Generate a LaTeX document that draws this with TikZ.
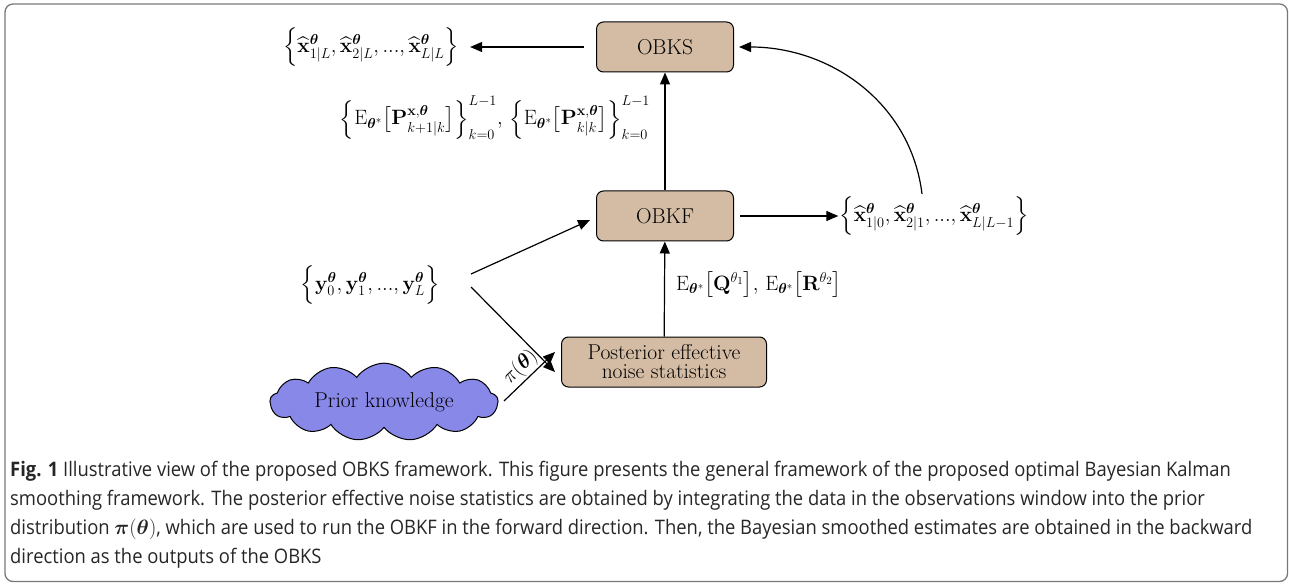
\documentclass[tikz,border=0pt]{standalone}
\usepackage{amsmath,amssymb,bm}
\usepackage[no-math]{fontspec}
\newfontfamily\capfont[FakeStretch=0.92]{Open Sans}
\usetikzlibrary{arrows.meta,shapes.symbols}
\definecolor{boxtan}{RGB}{212,188,164}
\definecolor{cloudblue}{RGB}{136,136,232}
\definecolor{framegray}{RGB}{120,120,120}
\newcommand\dfs{\fontsize{21.5}{24}\selectfont}
\newcommand\xh[1]{\widehat{\mathbf{x}}^{\bm\theta}_{#1}}
\begin{document}
\begin{tikzpicture}[x=1pt,y=-1pt,
  box/.style={draw, line width=1pt, rounded corners=7pt, fill=boxtan, minimum width=137, minimum height=50, font=\dfs, align=center},
  lbl/.style={font=\dfs, inner sep=1pt},
  arr/.style={-{Triangle[length=12pt,width=10pt]}, line width=1.2pt},
  cloudnode/.style={cloud, cloud puffs=13, cloud puff arc=110, aspect=3.6, draw, line width=1pt, fill=cloudblue, font=\dfs, inner sep=0pt, minimum width=228, minimum height=66}]
\useasboundingbox (0,0) rectangle (1289,585);
\draw[framegray, line width=1.3pt, rounded corners=8pt] (5,4) rectangle (1287.5,581.5);

\node[box] (obks) at (665,47) {OBKS};
\node[box] (obkf) at (665,216) {OBKF};
\node[box, minimum width=205] (post) at (664,362) {Posterior effective\\[-5pt]noise statistics};
\node[cloudnode] (prior) at (384,402) {Prior knowledge};

\node[lbl] (xs) at (371,47) {$\Big\{\xh{1|L},\xh{2|L},...,\xh{L|L}\Big\}$};
\node[lbl] (xf) at (934,216) {$\Big\{\xh{1|0},\xh{2|1},...,\xh{L|L-1}\Big\}$};
\node[lbl] (ys) at (370,285) {$\Big\{\mathbf{y}^{\bm\theta}_0,\mathbf{y}^{\bm\theta}_1,...,\mathbf{y}^{\bm\theta}_L\Big\}$};
\node[lbl] (pl) at (495,118) {$\Big\{\mathrm{E}_{\bm\theta^*}\big[\mathbf{P}^{\mathbf{x},\bm\theta}_{k+1|k}\big]\Big\}_{k=0}^{L-1},\,\Big\{\mathrm{E}_{\bm\theta^*}\big[\mathbf{P}^{\mathbf{x},\bm\theta}_{k|k}\big]\Big\}_{k=0}^{L-1}$};
\node[lbl, anchor=west] (ql) at (675,285) {$\mathrm{E}_{\bm\theta^*}\big[\mathbf{Q}^{\theta_1}\big],\,\mathrm{E}_{\bm\theta^*}\big[\mathbf{R}^{\theta_2}\big]$};

\coordinate (ysa) at (471,274);
\coordinate (ysb) at (471,287);
\coordinate (pra) at (504,401);
\coordinate (xft) at (922,194);

\draw[arr] ([xshift=-12pt]obks.west) -- ([xshift=10pt]xs.east);
\draw[arr] (obkf) -- (obks);
\draw[arr] (post) -- (obkf);
\draw[arr] ([xshift=6pt]obkf.east) -- (xf.west);
\draw[arr] (ysa) -- ([xshift=-6pt,yshift=-4pt]obkf.west);
\draw[arr] (xft) to[out=97,in=0] ([xshift=5pt]obks.east);
\draw[arr] (ysb) -- ([xshift=-6pt,yshift=-10pt]post.west);
\draw[arr] (pra) -- node[sloped, above, font=\dfs, inner sep=2pt] {$\pi(\bm\theta)$} ([xshift=-6pt,yshift=10pt]post.west);

\node[anchor=north west, inner sep=0pt, align=left, font=\capfont\fontsize{20}{29}\selectfont, text=black!85] (cap) at (10,461)
{\textbf{Fig. 1} Illustrative view of the proposed OBKS framework. This figure presents the general framework of the proposed optimal Bayesian Kalman\\
smoothing framework. The posterior effective noise statistics are obtained by integrating the data in the observations window into the prior\\
distribution $\bm\pi(\bm\theta)$, which are used to run the OBKF in the forward direction. Then, the Bayesian smoothed estimates are obtained in the backward\\
direction as the outputs of the OBKS};
\end{tikzpicture}
\end{document}
